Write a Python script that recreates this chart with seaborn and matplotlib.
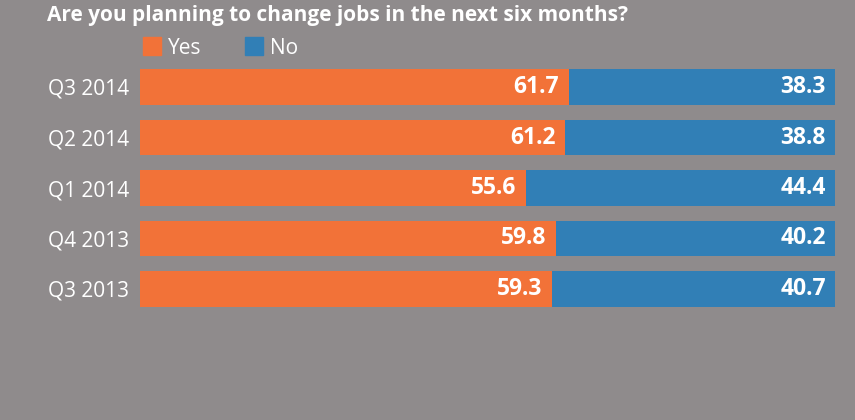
import matplotlib
matplotlib.use("Agg")
import matplotlib.pyplot as plt
import seaborn as sns
import pandas as pd
from matplotlib.patches import Rectangle

quarters = ["Q3 2014", "Q2 2014", "Q1 2014", "Q4 2013", "Q3 2013"]
yes_vals = [61.7, 61.2, 55.6, 59.8, 59.3]
no_vals = [38.3, 38.8, 44.4, 40.2, 40.7]
title = "Are you planning to change jobs in the next six months?"
series_names = ["Yes", "No"]

BG = "#8f8b8c"
ORANGE = "#f27238"
BLUE = "#317fb6"

sns.set_theme(style="white")
plt.rcParams["font.family"] = ["Open Sans", "DejaVu Sans"]

df = pd.DataFrame({"quarter": quarters, "yes": yes_vals, "no": no_vals})
df["total"] = df["yes"] + df["no"]

fig = plt.figure(figsize=(8.55, 4.2), dpi=100, facecolor=BG)
ax = fig.add_axes([140 / 855, 1 - 314.25 / 420, 695 / 855, (314.25 - 61.75) / 420])
ax.set_facecolor(BG)

sns.barplot(data=df, y="quarter", x="total", color=BLUE, orient="h",
            width=0.71, ax=ax, saturation=1, linewidth=0)
sns.barplot(data=df, y="quarter", x="yes", color=ORANGE, orient="h",
            width=0.71, ax=ax, saturation=1, linewidth=0)

ax.set_xlim(0, 100)
ax.set_ylim(4.5, -0.5)
for s in ax.spines.values():
    s.set_visible(False)
ax.set_xticks([])
ax.set_xlabel("")
ax.set_ylabel("")
ax.tick_params(axis="y", length=0, pad=8, labelsize=15, labelcolor="white")

for i, (y, n) in enumerate(zip(yes_vals, no_vals)):
    ax.text(y - 1.4, i, f"{y}", ha="right", va="center", color="white",
            fontsize=16.5, fontweight="bold")
    ax.text(y + n - 1.3, i, f"{n}", ha="right", va="center", color="white",
            fontsize=16.5, fontweight="bold")

fig.text(47 / 855, 1 - 15 / 420, title, ha="left", va="center", color="white",
         fontsize=15, fontweight="bold")

# legend
handles = [Rectangle((0, 0), 1, 1, color=ORANGE), Rectangle((0, 0), 1, 1, color=BLUE)]
leg = fig.legend(handles, series_names, loc="center left",
                 bbox_to_anchor=(143 / 855, 1 - 48 / 420), ncol=2, frameon=False,
                 borderpad=0, borderaxespad=0,
                 fontsize=15, handlelength=0.85, handleheight=0.95, handletextpad=0.35,
                 columnspacing=2.1, labelcolor="white")

fig.savefig("out.png", dpi=100, facecolor=BG)
